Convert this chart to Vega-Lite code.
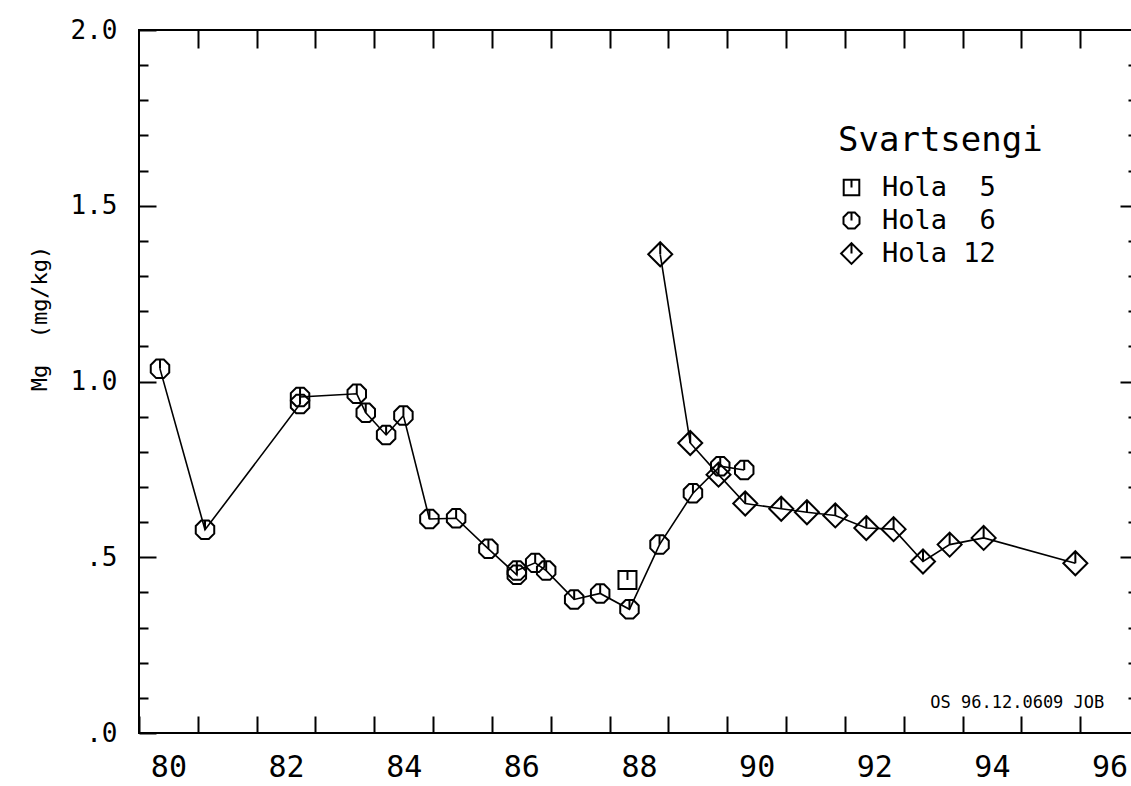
{
  "$schema": "https://vega.github.io/schema/vega-lite/v6.json",
  "width": 992,
  "height": 703,
  "autosize": {"type": "none"},
  "padding": {"left": 139, "top": 30, "right": 0, "bottom": 53},
  "background": "white",
  "config": {
    "view": {"stroke": "black", "strokeWidth": 2, "strokeDash": [992, 703, 1695, 10]},
    "font": "DejaVu Sans Mono",
    "axis": {
      "grid": false,
      "domain": false,
      "tickColor": "black",
      "tickWidth": 2,
      "labelColor": "black",
      "labelFont": "DejaVu Sans Mono",
      "titleFont": "DejaVu Sans Mono",
      "titleColor": "black",
      "titleFontWeight": "normal",
      "labelFlush": false,
      "labelOverlap": false,
      "labelBound": false
    }
  },
  "datasets": {
    "obs": [
      {"s": "Hola 6", "i": 1, "x": 1980.357, "y": 1.036},
      {"s": "Hola 6", "i": 2, "x": 1981.122, "y": 0.578},
      {"s": "Hola 6", "i": 3, "x": 1982.738, "y": 0.936},
      {"s": "Hola 6", "i": 4, "x": 1982.738, "y": 0.956},
      {"s": "Hola 6", "i": 5, "x": 1983.702, "y": 0.965},
      {"s": "Hola 6", "i": 6, "x": 1983.855, "y": 0.911},
      {"s": "Hola 6", "i": 7, "x": 1984.201, "y": 0.848},
      {"s": "Hola 6", "i": 8, "x": 1984.495, "y": 0.903},
      {"s": "Hola 6", "i": 9, "x": 1984.937, "y": 0.609},
      {"s": "Hola 6", "i": 10, "x": 1985.391, "y": 0.611},
      {"s": "Hola 6", "i": 11, "x": 1985.940, "y": 0.524},
      {"s": "Hola 6", "i": 12, "x": 1986.423, "y": 0.450},
      {"s": "Hola 6", "i": 13, "x": 1986.423, "y": 0.462},
      {"s": "Hola 6", "i": 14, "x": 1986.735, "y": 0.484},
      {"s": "Hola 6", "i": 15, "x": 1986.922, "y": 0.462},
      {"s": "Hola 6", "i": 16, "x": 1987.398, "y": 0.380},
      {"s": "Hola 6", "i": 17, "x": 1987.840, "y": 0.397},
      {"s": "Hola 6", "i": 18, "x": 1988.338, "y": 0.352},
      {"s": "Hola 6", "i": 19, "x": 1988.849, "y": 0.536},
      {"s": "Hola 6", "i": 20, "x": 1989.417, "y": 0.682},
      {"s": "Hola 6", "i": 21, "x": 1989.881, "y": 0.759},
      {"s": "Hola 6", "i": 22, "x": 1990.289, "y": 0.748},
      {"s": "Hola 12", "i": 1, "x": 1988.861, "y": 1.362},
      {"s": "Hola 12", "i": 2, "x": 1989.371, "y": 0.825},
      {"s": "Hola 12", "i": 3, "x": 1989.852, "y": 0.735},
      {"s": "Hola 12", "i": 4, "x": 1990.306, "y": 0.653},
      {"s": "Hola 12", "i": 5, "x": 1990.918, "y": 0.638},
      {"s": "Hola 12", "i": 6, "x": 1991.355, "y": 0.628},
      {"s": "Hola 12", "i": 7, "x": 1991.837, "y": 0.619},
      {"s": "Hola 12", "i": 8, "x": 1992.364, "y": 0.583},
      {"s": "Hola 12", "i": 9, "x": 1992.828, "y": 0.580},
      {"s": "Hola 12", "i": 10, "x": 1993.328, "y": 0.488},
      {"s": "Hola 12", "i": 11, "x": 1993.781, "y": 0.536},
      {"s": "Hola 12", "i": 12, "x": 1994.359, "y": 0.555},
      {"s": "Hola 12", "i": 13, "x": 1995.918, "y": 0.483},
      {"s": "Hola 5", "i": 1, "x": 1988.304, "y": 0.435}
    ],
    "note": [
      {"x": 1996.41, "y": 0.085, "label": "OS 96.12.0609 JOB"}
    ]
  },
  "resolve": {"axis": {"x": "independent", "y": "independent"}},
  "layer": [
    {
      "data": {"name": "obs"},
      "mark": {"type": "line", "color": "black", "strokeWidth": 1.6},
      "encoding": {
        "x": {
          "field": "x", "type": "quantitative",
          "scale": {"domain": [1980, 1996.864], "nice": false, "zero": false},
          "axis": {
            "orient": "bottom",
            "title": null,
            "offset": -17,
            "values": [1980, 1981, 1982, 1983, 1984, 1985, 1986, 1987, 1988, 1989, 1990, 1991, 1992, 1993, 1994, 1995, 1996],
            "tickSize": 17,
            "labelPadding": 19,
            "labelOffset": 29.4,
            "labelFontSize": 30,
            "labelBaseline": "top",
            "labelAlign": "center",
            "labelExpr": "datum.value % 2 == 0 ? format(datum.value % 100, 'd') : ''"
          }
        },
        "y": {
          "field": "y", "type": "quantitative",
          "scale": {"domain": [0, 2], "nice": false},
          "axis": {
            "orient": "left",
            "offset": -17,
            "title": "Mg\u00a0\u00a0(mg/kg)",
            "titleFontSize": 22,
            "titleAngle": 270,
            "titleAlign": "center",
            "titleBaseline": "middle",
            "titleX": -117,
            "titleY": 288,
            "values": [0, 0.1, 0.2, 0.3, 0.4, 0.5, 0.6, 0.7, 0.8, 0.9, 1.0, 1.1, 1.2, 1.3, 1.4, 1.5, 1.6, 1.7, 1.8, 1.9, 2.0],
            "tickSize": 17,
            "tickDash": {
              "condition": {"test": "abs(datum.value*2-round(datum.value*2))<0.001", "value": [20, 1]},
              "value": [0, 8, 9, 40]
            },
            "labelPadding": 22,
            "labelFontSize": 26,
            "labelAlign": "right",
            "labelBaseline": "middle",
            "labelExpr": "abs(datum.value*2-round(datum.value*2))<0.001 ? (datum.value < 1 ? replace(format(datum.value,'.1f'),'0.','.') : format(datum.value,'.1f')) : ''"
          }
        },
        "detail": {"field": "s"},
        "order": {"field": "i", "type": "quantitative"}
      }
    },
    {
      "data": {"name": "obs"},
      "mark": {"type": "point", "filled": false, "stroke": "black", "strokeWidth": 2, "size": 400, "opacity": 1},
      "encoding": {
        "x": {
          "field": "x", "type": "quantitative",
          "axis": {
            "orient": "top",
            "title": null,
            "offset": -18,
            "values": [1981, 1982, 1983, 1984, 1985, 1986, 1987, 1988, 1989, 1990, 1991, 1992, 1993, 1994, 1995, 1996],
            "tickSize": 18,
            "labels": false
          }
        },
        "y": {
          "field": "y", "type": "quantitative",
          "axis": {
            "orient": "right",
            "title": null,
            "offset": -11,
            "labels": false,
            "values": [0.1, 0.2, 0.3, 0.4, 0.5, 0.6, 0.7, 0.8, 0.9, 1.0, 1.1, 1.2, 1.3, 1.4, 1.5, 1.6, 1.7, 1.8, 1.9],
            "tickSize": 11,
            "tickDash": {
              "condition": {"test": "abs(datum.value*2-round(datum.value*2))<0.001", "value": [20, 1]},
              "value": [0, 8, 3, 40]
            }
          }
        },
        "shape": {
          "field": "s", "type": "nominal",
          "scale": {
            "domain": ["Hola 5", "Hola 6", "Hola 12"],
            "range": [
              "M-0.9,-0.9L0.9,-0.9L0.9,0.9L-0.9,0.9Z M0,-0.9L0,0",
              "M-0.383,-0.924L0.383,-0.924L0.924,-0.383L0.924,0.383L0.383,0.924L-0.383,0.924L-0.924,0.383L-0.924,-0.383Z M0,-0.924L0,0",
              "M0,-1.2L1.2,0L0,1.2L-1.2,0Z M0,-1.2L0,0"
            ]
          },
          "legend": {
            "orient": "none",
            "legendX": 699,
            "legendY": 94,
            "title": "Svartsengi",
            "titleFont": "DejaVu Sans Mono",
            "titleFontSize": 34,
            "titleFontWeight": "normal",
            "titleColor": "black",
            "titleLimit": 500,
            "titlePadding": 16,
            "labelFont": "DejaVu Sans Mono",
            "labelFontSize": 27,
            "labelColor": "black",
            "labelLimit": 400,
            "labelOffset": 17,
            "labelExpr": "datum.label == 'Hola 12' ? datum.label : replace(datum.label, ' ', '\u00a0\u00a0')",
            "symbolSize": 300,
            "symbolStrokeColor": "black",
            "symbolFillColor": "transparent",
            "symbolStrokeWidth": 2,
            "symbolOpacity": 1,
            "rowPadding": 5
          }
        }
      }
    },
    {
      "data": {"name": "note"},
      "mark": {"type": "text", "align": "right", "baseline": "middle", "fontSize": 17, "color": "black", "font": "DejaVu Sans Mono"},
      "encoding": {
        "x": {"field": "x", "type": "quantitative", "axis": null},
        "y": {"field": "y", "type": "quantitative", "axis": null},
        "text": {"field": "label"}
      }
    }
  ]
}
